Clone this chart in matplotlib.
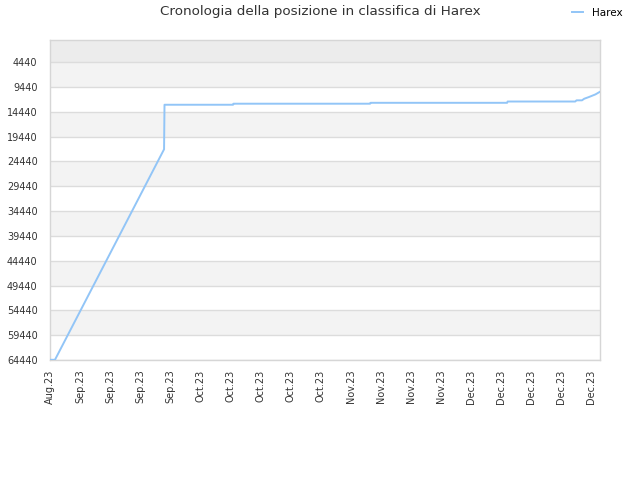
import matplotlib
matplotlib.use("Agg")
import matplotlib.pyplot as plt
import numpy as np

# Data (days since start, rank position)
days = [0.0, 1.1, 25.3, 25.4, 40.6, 40.7, 71.0, 71.1, 101.4, 101.5,
        116.5, 116.8, 118.0, 118.5, 119.5, 121.0, 122.0]
ranks = [64400, 64400, 22010, 13040, 13040, 12830, 12830, 12650, 12650, 12390,
         12390, 12150, 12150, 11830, 11500, 10950, 10420]
series_name = "Harex"
title = "Cronologia della posizione in classifica di Harex"
x_labels = ["Aug.23", "Sep.23", "Sep.23", "Sep.23", "Sep.23",
            "Oct.23", "Oct.23", "Oct.23", "Oct.23", "Oct.23",
            "Nov.23", "Nov.23", "Nov.23", "Nov.23",
            "Dec.23", "Dec.23", "Dec.23", "Dec.23", "Dec.23"]
y_ticks = [4440, 9440, 14440, 19440, 24440, 29440, 34440, 39440,
           44440, 49440, 54440, 59440, 64440]
x_end = 122.0
x_last_tick = 120.0
y_top = 1

line_color = "#92c5f7"

fig = plt.figure(figsize=(6.4, 4.8), dpi=100)
ax = fig.add_axes([50/640, 1-360/480, 550/640, 320/480])

# background bands
ax.axhspan(y_top, y_ticks[0], color="#ececec", zorder=0, lw=0)
for i in range(len(y_ticks)-1):
    c = "#f3f3f3" if i % 2 == 0 else "#ffffff"
    ax.axhspan(y_ticks[i], y_ticks[i+1], color=c, zorder=0, lw=0)
for t in y_ticks:
    ax.axhline(t, color="#dcdcdc", lw=1, zorder=1)

ax.plot(days, ranks, color=line_color, lw=1.4, zorder=3, label=series_name)

ax.set_xlim(0, x_end)
ax.set_ylim(y_ticks[-1], y_top)
ax.set_yticks(y_ticks)
ax.set_yticklabels([str(t) for t in y_ticks])
ax.set_xticks(np.linspace(0, x_last_tick, len(x_labels)))
ax.set_xticklabels(x_labels, rotation=90)
ax.tick_params(axis="both", length=0, labelsize=7, colors="#333333")
ax.tick_params(axis="y", pad=9)
ax.tick_params(axis="x", pad=7)
for s in ax.spines.values():
    s.set_color("#d6d6d6")
    s.set_linewidth(1)

fig.text(0.5, 1-12/480, title, ha="center", va="center", fontsize=9.7, color="#333333")
leg = fig.legend(loc="center left", bbox_to_anchor=(572/640, 1-13/480), frameon=False,
                 fontsize=7.5, handlelength=1.1, handletextpad=0.8, borderpad=0, borderaxespad=0)

fig.savefig("out.png", dpi=100)
